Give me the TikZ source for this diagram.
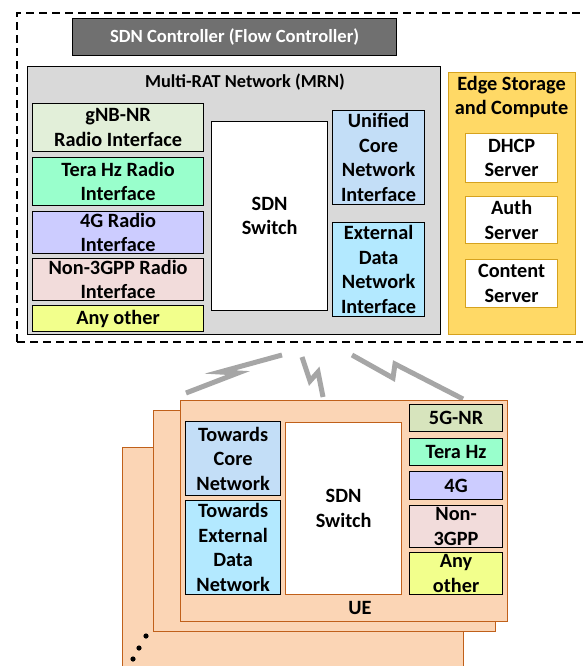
\documentclass[tikz,border=0pt]{standalone}
\usepackage{fontspec}
\setmainfont{Carlito}
\begin{document}
\begin{tikzpicture}[x=1pt,y=-1pt,
  font=\bfseries\fontsize{20.3}{24.5}\selectfont,
  box/.style={draw=black, line width=1.2pt, anchor=north west, inner sep=0pt, align=center},
  edgebox/.style={draw=edgeline, line width=1.2pt, anchor=north west, inner sep=0pt, align=center, fill=white},
  uebox/.style={draw=ueline, line width=1.2pt, fill=uefill, anchor=north west, inner sep=0pt},
  bolt/.style={draw=boltgray, line width=5pt, line join=miter, line cap=butt}]
\definecolor{ctrl}{HTML}{707070}
\definecolor{mrn}{HTML}{D9D9D9}
\definecolor{gnb}{HTML}{E2EFD9}
\definecolor{tera}{HTML}{99FFCC}
\definecolor{fourg}{HTML}{CCCCFF}
\definecolor{nongpp}{HTML}{F2DCDB}
\definecolor{anyo}{HTML}{F2FF8C}
\definecolor{core}{HTML}{C3DEF7}
\definecolor{ext}{HTML}{B3E9FF}
\definecolor{edgefill}{HTML}{FFD966}
\definecolor{edgeline}{HTML}{D6A21E}
\definecolor{uefill}{HTML}{FBD5B5}
\definecolor{ueline}{HTML}{C0601A}
\definecolor{fivegnr}{HTML}{D7E4BD}
\definecolor{boltgray}{HTML}{A6A6A6}

\useasboundingbox (0,0) rectangle (582,666);

% network side, dashed frame
\draw[line width=1.2pt, dash pattern=on 8pt off 5pt] (17,342) -- (17,13) -- (600,13);
\draw[line width=1.2pt, dash pattern=on 8pt off 5pt] (17,342) -- (600,342);

\node[box, fill=ctrl, text=white, minimum width=324pt, minimum height=37pt,
      font=\bfseries\fontsize{18.6}{22}\selectfont] (ctrl) at (72,18) {SDN Controller (Flow Controller)};

\node[box, fill=mrn, minimum width=413pt, minimum height=268pt] (mrn) at (27,66) {};
\node[font=\bfseries\fontsize{18.3}{22}\selectfont] (mrntitle) at (245,82) {Multi-RAT Network (MRN)};

\node[box, fill=gnb, minimum width=171pt, minimum height=48pt] (gnb) at (32,103) {gNB-NR\\Radio Interface};
\node[box, fill=tera, minimum width=171pt, minimum height=48pt] (tera) at (32,157) {Tera Hz Radio\\Interface};
\node[box, fill=fourg, minimum width=171pt, minimum height=42pt] (fourg) at (32,211) {4G Radio\\Interface};
\node[box, fill=nongpp, minimum width=171pt, minimum height=42pt] (nongpp) at (32,258) {Non-3GPP Radio\\Interface};
\node[box, fill=anyo, minimum width=171pt, minimum height=26pt] (anyo) at (32,305) {Any other};

\node[box, fill=white, minimum width=116pt, minimum height=189pt] (sw) at (211,121) {SDN\\Switch};

\node[box, fill=core, minimum width=92pt, minimum height=94pt] (core) at (332,110) {Unified\\Core\\Network\\Interface};
\node[box, fill=ext, minimum width=92pt, minimum height=94pt] (ext) at (332,222) {External\\Data\\Network\\Interface};

% edge storage and compute
\node[draw=edgeline, line width=1.2pt, fill=edgefill, anchor=north west, minimum width=127pt, minimum height=262pt] (edge) at (448,72) {};
\node[align=center] (edgetitle) at (511.5,97) {Edge Storage\\and Compute};
\node[edgebox, minimum width=92pt, minimum height=49pt] (dhcp) at (465,133) {DHCP\\Server};
\node[edgebox, minimum width=92pt, minimum height=47pt] (auth) at (465,196) {Auth\\Server};
\node[edgebox, minimum width=92pt, minimum height=48pt] (content) at (465,259) {Content\\Server};

% radio links
\draw[bolt] (186,393) -- (238,373) -- (220,372) -- (282,355);
\draw[bolt] (302,357) -- (310,381) -- (318,372) -- (323,397);
\draw[bolt] (352,355) -- (393,378) -- (395,364) -- (463,399);

% stack of UEs
\node[uebox, minimum width=341pt, minimum height=240pt] (ue3) at (122,447) {};
\node[uebox, minimum width=342pt, minimum height=221pt] (ue2) at (153,410) {};
\node[uebox, minimum width=327pt, minimum height=221pt] (ue1) at (180,400) {};

\node[box, fill=core, minimum width=95pt, minimum height=74pt] (tcore) at (185,421) {Towards\\Core\\Network};
\node[box, fill=ext, minimum width=95pt, minimum height=94pt] (text) at (185,500) {Towards\\External\\Data\\Network};
\node[box, draw=ueline, fill=white, minimum width=116pt, minimum height=172pt] (uesw) at (285,422) {SDN\\Switch};

\node[box, fill=fivegnr, minimum width=93pt, minimum height=27pt] (nr) at (409,404) {5G-NR};
\node[box, fill=tera, minimum width=93pt, minimum height=27pt] (uetera) at (409,438) {Tera Hz};
\node[box, fill=fourg, minimum width=93pt, minimum height=28pt] (ue4g) at (409,471) {4G};
\node[box, fill=nongpp, minimum width=93pt, minimum height=42pt] (uenon) at (409,505) {Non-\\3GPP};
\node[box, fill=anyo, minimum width=93pt, minimum height=42pt] (ueany) at (409,552) {Any\\other};

\node (uelabel) at (360,608) {UE};

\foreach \px/\py in {146/636, 139/648, 133/659}
  \fill (\px,\py) circle (2.6pt);
\end{tikzpicture}
\end{document}
